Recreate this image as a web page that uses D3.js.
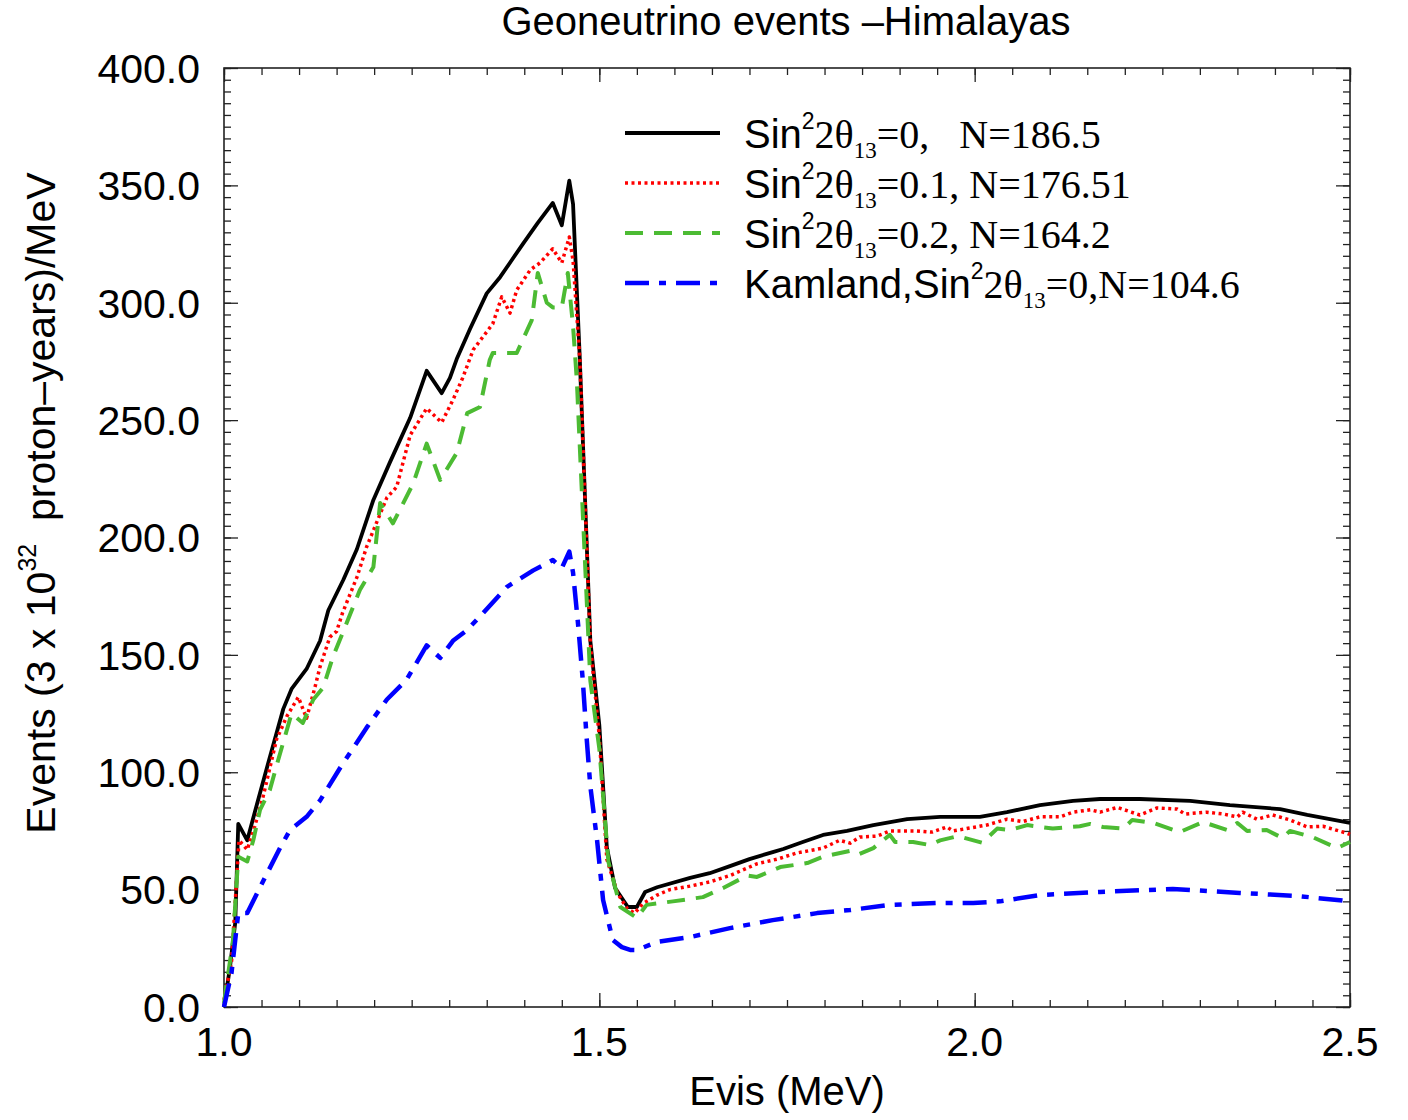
<!DOCTYPE html>
<html>
<head>
<meta charset="utf-8">
<script src="https://cdn.jsdelivr.net/npm/d3@7"></script>
<style>
  body { margin: 0; background: #fff; }
  svg text { fill: #000; }
</style>
</head>
<body>
<div id="chart"></div>
<script>
// values
var titleText = "Geoneutrino events \u2013Himalayas";
var xTicks = [1.0, 1.5, 2.0, 2.5];
var yTicks = [0, 50, 100, 150, 200, 250, 300, 350, 400];

var blackX = [1.000, 1.008, 1.015, 1.019, 1.031, 1.041, 1.059, 1.079, 1.090, 1.110, 1.128, 1.139, 1.159, 1.177, 1.199, 1.221, 1.248, 1.270, 1.290, 1.301, 1.310, 1.328, 1.350, 1.368, 1.383, 1.398, 1.418, 1.438, 1.450, 1.460, 1.465, 1.474, 1.488, 1.500, 1.510, 1.521, 1.538, 1.550, 1.561, 1.577, 1.621, 1.647, 1.674, 1.700, 1.731, 1.745, 1.771, 1.798, 1.830, 1.865, 1.910, 1.954, 2.007, 2.043, 2.087, 2.131, 2.167, 2.220, 2.287, 2.340, 2.407, 2.443, 2.500];
var blackY = [0, 17, 36, 78, 71, 83, 104, 127, 135.5, 144, 156, 169, 182, 195, 216, 232, 251, 271, 261.5, 268, 276, 289, 304, 311, 318, 325, 334, 342.5, 333, 352, 342, 276, 156, 120, 68, 50.7, 42.6, 42.6, 49, 51, 55, 57, 60, 63, 66, 67.3, 70.3, 73.3, 75, 77.5, 80, 81, 81, 83, 86, 87.8, 88.6, 88.6, 87.8, 86, 84.3, 81.8, 78.4];

var redX = [1.000, 1.010, 1.020, 1.031, 1.041, 1.052, 1.070, 1.084, 1.099, 1.110, 1.121, 1.128, 1.141, 1.150, 1.158, 1.177, 1.190, 1.199, 1.217, 1.230, 1.248, 1.270, 1.290, 1.305, 1.318, 1.332, 1.358, 1.370, 1.381, 1.390, 1.408, 1.421, 1.438, 1.450, 1.460, 1.465, 1.474, 1.488, 1.500, 1.510, 1.524, 1.537, 1.547, 1.558, 1.577, 1.594, 1.621, 1.647, 1.674, 1.710, 1.737, 1.763, 1.798, 1.820, 1.834, 1.847, 1.870, 1.887, 1.923, 1.943, 1.963, 1.971, 2.016, 2.043, 2.064, 2.087, 2.114, 2.131, 2.154, 2.167, 2.190, 2.220, 2.243, 2.270, 2.280, 2.309, 2.331, 2.350, 2.357, 2.376, 2.397, 2.420, 2.443, 2.464, 2.496, 2.500];
var redY = [3, 19, 71, 67, 77, 89.5, 114, 124, 132, 123, 136, 145, 157.6, 160, 168, 183, 196, 203, 217, 221.5, 243.6, 255, 249, 258.6, 268, 280, 291, 302.5, 295.6, 305.4, 314, 317, 323, 317, 328, 318, 276, 155, 115, 63, 48.6, 42, 40, 44, 47.7, 50, 51.5, 53.3, 56, 61, 63, 65.6, 67.7, 71, 69.8, 72.4, 72.8, 75, 75, 74.5, 76.7, 75, 77.5, 80, 79, 81, 81, 83, 84, 83, 85, 81.8, 84.8, 84.3, 82.2, 83, 82.2, 81, 83, 80, 81.8, 79.7, 76.7, 77, 74, 73.5];

var greenX = [1.000, 1.012, 1.019, 1.031, 1.039, 1.048, 1.061, 1.072, 1.090, 1.105, 1.119, 1.132, 1.145, 1.181, 1.199, 1.208, 1.225, 1.252, 1.270, 1.288, 1.310, 1.324, 1.341, 1.354, 1.358, 1.390, 1.410, 1.418, 1.430, 1.438, 1.450, 1.458, 1.465, 1.470, 1.488, 1.500, 1.512, 1.528, 1.550, 1.563, 1.598, 1.638, 1.665, 1.697, 1.710, 1.741, 1.777, 1.798, 1.834, 1.845, 1.865, 1.887, 1.894, 1.918, 1.940, 1.954, 1.978, 2.010, 2.030, 2.047, 2.070, 2.104, 2.140, 2.154, 2.171, 2.198, 2.210, 2.238, 2.273, 2.304, 2.336, 2.350, 2.363, 2.389, 2.410, 2.420, 2.450, 2.483, 2.500];
var greenY = [1.7, 28.5, 64, 62, 71, 84, 92.4, 105, 125, 121, 131, 136, 149, 177.6, 187.4, 214.7, 206, 223, 240, 224.5, 236, 253, 255.6, 275.6, 278.6, 278.6, 292.6, 312.7, 300, 298, 298, 312.7, 290, 267, 139, 110, 62, 42.6, 38, 43.5, 45, 46.8, 50.7, 56, 55.4, 59.6, 61.3, 64, 66.5, 65, 67.7, 73.3, 70.3, 70.3, 69, 71, 72.8, 70, 76, 75.4, 77.5, 76, 77, 78, 76.7, 76, 79.7, 78.4, 74.5, 78.8, 75.4, 78.4, 75, 75.4, 72, 75, 72.4, 67.7, 70.3];

var blueX = [1.000, 1.010, 1.019, 1.031, 1.048, 1.075, 1.088, 1.110, 1.128, 1.155, 1.190, 1.217, 1.243, 1.270, 1.288, 1.305, 1.324, 1.345, 1.377, 1.412, 1.438, 1.450, 1.460, 1.465, 1.472, 1.478, 1.483, 1.488, 1.497, 1.505, 1.518, 1.530, 1.541, 1.550, 1.577, 1.621, 1.674, 1.731, 1.790, 1.834, 1.887, 1.950, 1.998, 2.034, 2.087, 2.167, 2.264, 2.353, 2.430, 2.500];
var blueY = [0, 14.5, 40, 40, 51, 68, 75.4, 81, 88, 102, 119, 131, 139.3, 154, 148.7, 156, 160.6, 167.8, 179, 186, 190.4, 187, 194, 185, 162, 139, 115, 94, 71, 45.6, 28.5, 25.5, 24.3, 24.3, 27.7, 29.8, 33.6, 37, 40, 41.3, 43.5, 44.3, 44.3, 45, 47.7, 49, 50.3, 48.6, 47.3, 45];

var legendLabels = [
  {th: "=0,\u00a0\u00a0\u00a0N=186.5"},
  {th: "=0.1, N=176.51"},
  {th: "=0.2, N=164.2"},
  {pre: "Kamland,", th: "=0,N=104.6"}
];

var margin = {top: 68, right: 58, bottom: 113, left: 224}
  , width = 1408 - margin.left - margin.right
  , height = 1120 - margin.top - margin.bottom;

var series = [
  {xs: blackX, ys: blackY, color: "#000000", dash: null, w: 3.8},
  {xs: redX, ys: redY, color: "#ff0000", dash: "3,3.5", w: 3.5},
  {xs: greenX, ys: greenY, color: "#4cbb33", dash: "18,11", w: 4},
  {xs: blueX, ys: blueY, color: "#0000ff", dash: "24,10,7,10", w: 4.5}
];

var svg = d3.select("#chart").append("svg")
  .attr("width", 1408)
  .attr("height", 1120);

var g = svg.append("g")
  .attr("transform", "translate(" + margin.left + "," + margin.top + ")");

var x = d3.scaleLinear().domain([1.0, 2.5]).range([0, width]);
var y = d3.scaleLinear().domain([0, 400]).range([height, 0]);

var sans = "'Liberation Sans', Arial, sans-serif";
var serif = "'Liberation Serif', 'Times New Roman', serif";

// minor ticks, inward on all four sides
var xMinor = d3.range(1.0, 2.5001, 0.05);
var yMinor = d3.range(0, 400.01, 5);

function tickAxis(axisFn, scale, vals, len) {
  return axisFn(scale).tickValues(vals).tickSize(len).tickFormat("");
}

var axes = [
  {fn: d3.axisBottom, s: x, t: "translate(0," + height + ")", minor: xMinor, major: xTicks},
  {fn: d3.axisTop, s: x, t: "translate(0,0)", minor: xMinor, major: xTicks},
  {fn: d3.axisLeft, s: y, t: "translate(0,0)", minor: yMinor, major: yTicks},
  {fn: d3.axisRight, s: y, t: "translate(" + width + ",0)", minor: yMinor, major: yTicks}
];
axes.forEach(function(a) {
  [[a.minor, -7], [a.major, -14]].forEach(function(p) {
    var ax = g.append("g").attr("transform", a.t)
      .call(tickAxis(a.fn, a.s, p[0], p[1]));
    ax.select(".domain").remove();
    ax.selectAll("line").attr("stroke", "#222").attr("stroke-width", 1.3);
  });
});

// frame
g.append("rect")
  .attr("x", 0).attr("y", 0)
  .attr("width", width).attr("height", height)
  .attr("fill", "none")
  .attr("stroke", "#222")
  .attr("stroke-width", 1.6);

// tick labels
g.selectAll(".ylab").data(yTicks).enter().append("text")
  .attr("x", -24)
  .attr("y", function(d) { return y(d); })
  .attr("dy", "0.36em")
  .attr("text-anchor", "end")
  .attr("font-family", sans)
  .attr("font-size", 41)
  .text(function(d) { return d.toFixed(1); });

g.selectAll(".xlab").data(xTicks).enter().append("text")
  .attr("x", function(d) { return x(d); })
  .attr("y", height + 49)
  .attr("text-anchor", "middle")
  .attr("font-family", sans)
  .attr("font-size", 41)
  .text(function(d) { return d.toFixed(1); });

// curves
var line = d3.line()
  .x(function(d) { return x(d[0]); })
  .y(function(d) { return y(d[1]); });

series.forEach(function(s) {
  var pts = s.xs.map(function(v, i) { return [v, s.ys[i]]; });
  g.append("path")
    .datum(pts)
    .attr("fill", "none")
    .attr("stroke", s.color)
    .attr("stroke-width", s.w)
    .attr("stroke-linejoin", "round")
    .attr("stroke-dasharray", s.dash)
    .attr("d", line);
});

// title and axis labels
svg.append("text")
  .attr("x", 786).attr("y", 35)
  .attr("text-anchor", "middle")
  .attr("font-family", sans)
  .attr("font-size", 40)
  .text(titleText);

svg.append("text")
  .attr("x", 787).attr("y", 1105)
  .attr("text-anchor", "middle")
  .attr("font-family", sans)
  .attr("font-size", 40)
  .text("Evis (MeV)");

var yl = svg.append("text")
  .attr("transform", "translate(55,503) rotate(-90)")
  .attr("text-anchor", "middle")
  .attr("font-family", sans)
  .attr("font-size", 41);
yl.append("tspan").text("Events (3 x 10");
yl.append("tspan").attr("dy", -19).attr("font-size", 25).text("32");
yl.append("tspan").attr("dy", 19).text("\u00a0 proton\u2013years)/MeV");

// legend
var legend = svg.append("g").attr("class", "legend");
legendLabels.forEach(function(d, i) {
  var s = series[i];
  var ly = 133 + i * 50;
  legend.append("line")
    .attr("x1", 625).attr("x2", 720)
    .attr("y1", ly).attr("y2", ly)
    .attr("stroke", s.color)
    .attr("stroke-width", s.w)
    .attr("stroke-dasharray", s.dash);

  var t = legend.append("text")
    .attr("x", 744).attr("y", ly + 15)
    .attr("font-size", 40);
  if (d.pre) t.append("tspan").attr("font-family", sans).text(d.pre);
  t.append("tspan").attr("font-family", sans).text("Sin");
  t.append("tspan").attr("font-family", sans).attr("font-size", 23).attr("dy", -19).text("2");
  t.append("tspan").attr("font-family", serif).attr("dy", 19).text("2\u03b8");
  t.append("tspan").attr("font-family", serif).attr("font-size", 23).attr("dy", 10).text("13");
  t.append("tspan").attr("font-family", serif).attr("dy", -10).text(d.th);
});
</script>
</body>
</html>
